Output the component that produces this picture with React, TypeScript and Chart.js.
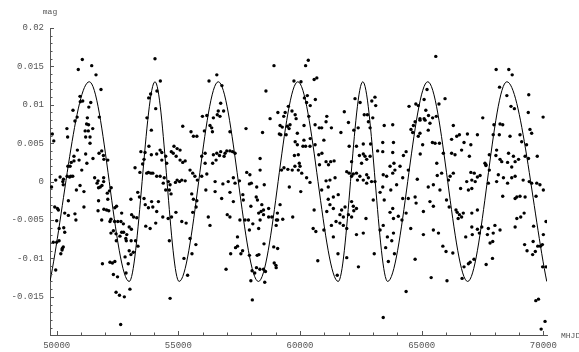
import React, { useEffect, useRef } from "react";
import { Chart, registerables } from "chart.js";

Chart.register(...registerables);

// Observed light-curve points: MJD (modified heliocentric Julian date) and magnitude offset
const obsMjd: number[] = [
  // upper band
  51053, 50888, 51439, 51616, 51821, 50958, 51070, 50970, 50670, 51320, 51400, 51260, 50840, 51750, 54040, 54260, 54120, 53860, 53780, 54070, 53710,
  56580, 56260, 56790, 56740, 56640, 56860, 56600, 56710, 55990, 56170, 56440, 58930, 60340, 60230, 58600, 59750, 60040, 60580, 60690, 60300,
  60180, 60630, 60270, 60420, 59520, 59670, 59090, 59390, 59330, 59800, 59840, 60360, 58770, 61100, 62260, 62470, 62950, 63080, 63110, 61820,
  62640, 62770, 62990,
  65580, 65220, 64480, 64760, 64860, 65100, 65710, 65960, 65170, 65280, 65450, 65600, 64930, 65100, 68060, 68580, 68720, 68200, 68500, 69400,
  68670, 68810, 69380, 67510, 69990,
  // left middle band
  49820, 49880, 49790, 49960, 50140, 50280, 50250, 50430, 50530, 49920,
  50030, 50070, 50000, 50100, 50290, 50330, 50330, 50480, 50750, 50480,
  50580, 50660, 50460, 50550, 50600, 50710, 50920, 50420, 50450, 50750,
  50850, 50710, 51030, 50960, 51190, 51240, 51230, 51310, 51170, 51300,
  51370, 51190, 51480, 51370, 51490, 51740, 51850, 51940, 51920, 52100,
  51560, 51700, 51660, 51720, 51790, 51860, 51930, 51930, 51720, 51700,
  51940, 52100, 52080, 52170, 52240, 52050, 52140, 51850, 52230, 52190,
  52380, 52460, 52390, 52670, 52510, 52640, 52740, 52230, 52330, 52440,
  52600, 52670, 52750, 52840, 52880, 52980, 53070, 53080, 53160, 53290,
  53330, 53400, 53590, 53640, 53770, 53950, 54110, 53900, 54180, 53220,
  53420, 53530, 53590, 53460, 53630, 53700, 53770, 53870, 53950, 54110,
  54250, 53890, 53790, 53890, 54110, 54250, 54320, 54480, 54520, 54320,
  54420, 54590, 54660, 54380, 54480, 54630, 54700, 54880, 54950, 55050,
  55140, 55280, 54710, 54790, 54910, 54820, 54950, 55070, 55070, 55180,
  55280, 55180, 55520, 55620, 55760, 55480, 55590, 55680, 55780, 55550,
  55620, 55760, 55730, 55590, 55320, 55480, 53050, 53660, 53840, 54070,
  54360, 54580, 54720, 54900, 55140, 50810, 51120, 51120, 50790, 50270,
  // lower band
  49860, 50000, 50100, 50270, 50230, 50170, 50220, 49960, 51880, 52190, 52290, 52390, 52330, 52500, 52440, 52580, 52780, 52630,
  52810, 52940, 52850, 52980, 53050, 53150, 53010, 53340, 52450, 52860, 53060, 53240, 54660, 54630, 55230, 55380, 55560, 55720,
  56960, 57150, 57350, 57430, 57570, 57640, 57920, 58240, 58310, 58520, 58920, 59080, 58030, 58140, 58210, 58350, 58580, 58500,
  57980, 58550, 58940, 59010, 59020, 58040, 60730, 61560, 61920, 61530, 62400, 63050, 63520, 63880, 63630, 63770, 63420,
  64360, 64730, 65390, 65870, 66000, 66280, 66040, 66660, 66740, 66920,
  66990, 67150, 67650, 67910, 67810, 67920, 69230, 69330, 69580, 69560,
  69670, 69770, 69880, 69960, 69970, 70110, 69690, 69800, 70070, 69910,
  // central middle band
  56300, 56370, 56400, 56070, 57120, 57780, 58460, 59180, 59270, 59150,
  59480, 59550, 59590, 59430, 59210, 59890, 60165, 60620, 60790, 60890,
  61070, 60980, 59800, 60160, 60420, 60230, 60120, 59890, 60620, 60410,
  61290, 61680, 61990, 62210, 62390, 62880, 62810, 63460, 63810, 63840,
  63400, 63190, 62900, 62600, 62320, 62020, 56440, 56580, 56740, 56920,
  56990, 57120, 57230, 57330, 56880, 56690, 56550, 56100, 55960, 56100,
  56410, 58360, 59930, 59770, 59970, 60770, 60900, 60800, 61070, 61260,
  61400, 61170, 62440, 62600, 62670, 62740, 62880, 62120, 62530, 63400,
  63810, 63860, 63700, 56170, 55960, 56510, 56830, 57050, 57260, 57330,
  57510, 57810, 57940, 57920, 58220, 58000, 58360, 58530, 59240, 59340,
  59500, 59680, 59790, 59930, 60070, 60000, 60270, 60410, 59560, 61070,
  61230, 61440, 61160, 60890, 61920, 62020, 62190, 62320, 62460, 62740,
  62810, 62940, 63080, 62740, 62600, 62360, 62120, 63420, 63560, 63810,
  63900, 63400, 63730, 63970, 56130, 56510, 56780, 57120, 57260, 57650,
  57670, 57980, 58200, 58250, 58430, 58710, 58500, 58400, 58300, 58500,
  58710, 58840, 59070, 59180, 59290, 59700, 59030, 60030, 60580, 61100,
  61230, 61370, 61570, 61370, 61160, 61710, 61850, 62120, 62190, 62320,
  62210, 62710, 63010, 63290, 63460, 63810, 63700, 61640, 61780, 61990,
  62120, 56230, 56300, 57010, 57120, 57530, 57740, 57880, 58060, 58360,
  58300, 57920, 57430, 59020, 59080, 60540, 60650, 60980, 61290, 61480,
  61920, 62320, 62600, 63290, 63420, 63840, 64040, 63840, 63590, 61640,
  61780, 61370,
  // right middle band
  64660, 64560, 64630, 64860, 64930, 65040, 65270, 65440, 65550, 65730,
  64940, 64360, 64250, 64110, 64450, 64220, 64730, 64930, 65140, 65340,
  66300, 66230, 66440, 66550, 66740, 66880, 67020, 67290, 66230, 66370,
  66640, 66960, 65890, 65620, 65820, 65640, 67970, 68220, 68330, 67940,
  68190, 68630, 68080, 68050, 68220, 68290, 67780, 67600, 67640, 69450,
  69520, 69040, 69110, 69310, 69750, 69250, 69390, 68980, 68770, 68570,
  68530, 68840, 68700, 66300, 67020, 67160, 67060, 67200, 67290, 67400,
  66850, 66600, 66920, 67060, 66100, 66170, 65750, 65480, 65270, 64820,
  64730, 64770, 64450, 64220, 64360, 67640, 67780, 67740, 68150, 68080,
  68360, 68700, 68840, 68530, 68840, 68910, 69040, 69250, 69520, 69730,
  69860, 70000, 69700, 69170, 69420, 68330, 66020, 66130, 66410, 66460,
  66550, 66640, 66500, 66710, 67060, 67290, 67060, 67290, 67470, 67370,
  67740, 68010, 68220, 68840, 68910, 69070, 69210, 70110, 69600, 70000,
  65480, 65690, 65070, 64550, 64190, 65340, 65480, 65070, 66810, 67080,
  67700, 67940,
];

const obsMag: number[] = [
  // upper band
  0.0159, 0.0146, 0.0151, 0.0139, 0.0120, 0.0111, 0.0105, 0.0104, 0.0093, 0.0097, 0.0103, 0.0083, 0.0084, 0.0084, 0.0160, 0.0131, 0.0118, 0.0114, 0.0109, 0.0095, 0.0083,
  0.0139, 0.0131, 0.0125, 0.0102, 0.0092, 0.0092, 0.0087, 0.0085, 0.0085, 0.0086, 0.0083, 0.0151, 0.0158, 0.0151, 0.0118, 0.0131, 0.0130, 0.0133, 0.0135, 0.0112,
  0.0109, 0.0107, 0.0103, 0.0099, 0.0098, 0.0092, 0.0090, 0.0090, 0.0085, 0.0087, 0.0082, 0.0085, 0.0082, 0.0085, 0.0108, 0.0103, 0.0105, 0.0110, 0.0099, 0.0091,
  0.0087, 0.0087, 0.0083,
  0.0163, 0.0120, 0.0098, 0.0101, 0.0099, 0.0107, 0.0101, 0.0108, 0.0093, 0.0086, 0.0083, 0.0085, 0.0082, 0.0082, 0.0146, 0.0146, 0.0139, 0.0123, 0.0112, 0.0113,
  0.0098, 0.0095, 0.0090, 0.0083, 0.0084,
  // left middle band
  0.0062, 0.0053, -0.0007, 0.0002, 0.0006, 0.0003, 0.0000, 0.0007, 0.0006, -0.0033,
  -0.0035, -0.0037, -0.0051, -0.0061, -0.0060, -0.0066, -0.0041, -0.0044, -0.0042, -0.0025,
  0.0007, 0.0007, 0.0020, 0.0020, 0.0025, 0.0027, 0.0028, 0.0069, 0.0058, 0.0079,
  0.0041, 0.0033, 0.0015, -0.0005, 0.0036, 0.0024, 0.0075, 0.0074, 0.0066, 0.0066,
  0.0058, 0.0058, 0.0069, 0.0050, 0.0030, 0.0037, 0.0040, 0.0029, 0.0034, 0.0028,
  0.0005, 0.0001, -0.0002, -0.0008, -0.0007, -0.0005, 0.0000, 0.0005, -0.0025, -0.0038,
  -0.0036, -0.0023, -0.0015, -0.0012, -0.0008, -0.0037, -0.0038, -0.0050, -0.0049, -0.0052,
  -0.0052, -0.0032, -0.0034, -0.0041, -0.0052, -0.0052, -0.0055, -0.0067, -0.0064, -0.0068,
  -0.0071, -0.0066, -0.0066, -0.0074, -0.0069, -0.0059, -0.0062, -0.0043, -0.0046, -0.0047,
  -0.0014, -0.0020, -0.0022, -0.0030, -0.0034, -0.0033, -0.0039, -0.0026, -0.0026, 0.0018,
  0.0012, 0.0023, 0.0029, 0.0039, 0.0038, 0.0011, 0.0012, 0.0011, 0.0011, 0.0007,
  0.0007, 0.0067, 0.0046, 0.0035, 0.0036, 0.0041, 0.0038, 0.0033, 0.0024, 0.0028,
  0.0005, 0.0000, -0.0004, -0.0002, -0.0011, -0.0011, -0.0016, -0.0001, 0.0002, 0.0000,
  0.0002, 0.0001, 0.0039, 0.0037, 0.0033, 0.0046, 0.0043, 0.0041, 0.0028, 0.0025,
  0.0027, 0.0072, 0.0065, 0.0059, 0.0059, 0.0015, 0.0011, 0.0007, 0.0002, -0.0016,
  -0.0023, -0.0025, -0.0033, -0.0040, -0.0054, -0.0074, -0.0023, -0.0058, -0.0061, -0.0054,
  -0.0046, -0.0048, -0.0046, -0.0040, -0.0052, -0.0011, -0.0013, -0.0033, -0.0050, -0.0004,
  // lower band
  -0.0079, -0.0079, -0.0077, -0.0085, -0.0087, -0.0094, -0.0089, -0.0115, -0.0107, -0.0105, -0.0106, -0.0104, -0.0121, -0.0124, -0.0144, -0.0148, -0.0150, -0.0186,
  -0.0098, -0.0107, -0.0119, -0.0090, -0.0095, -0.0092, -0.0140, -0.0084, -0.0077, -0.0077, -0.0077, -0.0077, -0.0152, -0.0077, -0.0100, -0.0122, -0.0094, -0.0082,
  -0.0114, -0.0094, -0.0086, -0.0084, -0.0094, -0.0090, -0.0096, -0.0096, -0.0095, -0.0081, -0.0085, -0.0087, -0.0116, -0.0119, -0.0112, -0.0114, -0.0117, -0.0114,
  -0.0129, -0.0131, -0.0106, -0.0109, -0.0112, -0.0154, -0.0103, -0.0094, -0.0099, -0.0122, -0.0111, -0.0094, -0.0086, -0.0094, -0.0104, -0.0077, -0.0177,
  -0.0143, -0.0101, -0.0125, -0.0084, -0.0091, -0.0093, -0.0129, -0.0126, -0.0111, -0.0107,
  -0.0105, -0.0101, -0.0108, -0.0100, -0.0080, -0.0078, -0.0082, -0.0090, -0.0078, -0.0095,
  -0.0091, -0.0084, -0.0084, -0.0082, -0.0111, -0.0111, -0.0155, -0.0153, -0.0182, -0.0192,
  // central middle band
  0.0073, 0.0070, 0.0065, 0.0066, 0.0065, 0.0069, 0.0064, 0.0073, 0.0071, 0.0062,
  0.0072, 0.0069, 0.0074, 0.0061, 0.0061, 0.0063, 0.0073, 0.0074, 0.0070, 0.0070,
  0.0078, 0.0054, 0.0052, 0.0054, 0.0056, 0.0046, 0.0046, 0.0048, 0.0048, 0.0046,
  0.0070, 0.0064, 0.0077, 0.0067, 0.0070, 0.0070, 0.0078, 0.0073, 0.0074, 0.0051,
  0.0051, 0.0040, 0.0049, 0.0049, 0.0046, 0.0046, 0.0035, 0.0037, 0.0039, 0.0037,
  0.0040, 0.0040, 0.0039, 0.0037, 0.0033, 0.0034, 0.0028, 0.0037, 0.0033, 0.0024,
  0.0024, 0.0030, 0.0035, 0.0034, 0.0024, 0.0035, 0.0037, 0.0022, 0.0026, 0.0026,
  0.0027, 0.0022, 0.0034, 0.0036, 0.0033, 0.0029, 0.0033, 0.0026, 0.0024, 0.0039,
  0.0038, 0.0024, 0.0020, 0.0010, 0.0007, 0.0000, -0.0003, 0.0000, 0.0005, -0.0002,
  0.0001, 0.0012, 0.0009, -0.0003, -0.0007, -0.0002, 0.0015, -0.0004, 0.0015, 0.0018,
  0.0016, 0.0015, 0.0020, 0.0015, 0.0011, 0.0020, 0.0005, -0.0001, -0.0007, 0.0001,
  0.0002, 0.0005, -0.0007, -0.0011, 0.0013, 0.0011, 0.0010, 0.0011, 0.0007, 0.0009,
  0.0005, 0.0000, 0.0000, -0.0002, 0.0002, 0.0002, 0.0007, 0.0009, 0.0007, 0.0011,
  0.0015, -0.0007, -0.0011, -0.0004, -0.0011, -0.0013, -0.0022, -0.0014, -0.0026, -0.0017,
  -0.0024, -0.0032, -0.0020, -0.0024, -0.0030, -0.0035, -0.0037, -0.0039, -0.0041, -0.0043,
  -0.0046, -0.0046, -0.0041, -0.0030, -0.0049, -0.0046, -0.0050, -0.0013, -0.0037, -0.0039,
  -0.0030, -0.0035, -0.0017, -0.0020, -0.0023, -0.0037, -0.0033, -0.0026, -0.0032, -0.0035,
  -0.0038, -0.0048, -0.0024, -0.0014, -0.0024, -0.0035, -0.0040, -0.0043, -0.0046, -0.0043,
  -0.0046, -0.0046, -0.0057, -0.0043, -0.0046, -0.0050, -0.0050, -0.0050, -0.0055, -0.0050,
  -0.0061, -0.0063, -0.0072, -0.0057, -0.0050, -0.0061, -0.0065, -0.0063, -0.0057, -0.0052,
  -0.0061, -0.0069, -0.0067, -0.0063, -0.0057, -0.0048, -0.0045, -0.0067, -0.0072, -0.0054,
  -0.0057, -0.0072,
  // right middle band
  0.0073, 0.0068, 0.0064, 0.0059, 0.0063, 0.0048, 0.0067, 0.0051, 0.0050, 0.0050,
  0.0036, 0.0039, 0.0034, 0.0020, 0.0015, 0.0005, 0.0078, 0.0080, 0.0080, 0.0076,
  0.0073, 0.0055, 0.0059, 0.0061, 0.0051, 0.0062, 0.0048, 0.0061, 0.0037, 0.0035,
  0.0041, 0.0033, 0.0037, 0.0024, 0.0011, 0.0008, 0.0074, 0.0075, 0.0074, 0.0061,
  0.0061, 0.0059, 0.0041, 0.0034, 0.0029, 0.0026, 0.0035, 0.0024, 0.0021, 0.0068,
  0.0063, 0.0061, 0.0052, 0.0048, 0.0033, 0.0033, 0.0030, 0.0029, 0.0033, 0.0037,
  0.0025, 0.0026, 0.0019, 0.0011, 0.0012, 0.0011, 0.0002, 0.0000, 0.0006, 0.0008,
  0.0000, -0.0009, -0.0011, -0.0009, 0.0002, 0.0007, -0.0011, -0.0004, -0.0007, 0.0003,
  -0.0020, -0.0028, -0.0022, -0.0022, -0.0041, 0.0022, 0.0015, -0.0002, 0.0009, 0.0000,
  0.0005, 0.0005, 0.0007, -0.0002, -0.0022, -0.0020, -0.0019, -0.0020, -0.0002, -0.0002,
  -0.0004, -0.0011, -0.0019, 0.0002, 0.0000, -0.0019, -0.0024, -0.0033, -0.0037, -0.0040,
  -0.0043, -0.0046, -0.0048, -0.0041, -0.0041, -0.0037, -0.0059, -0.0062, -0.0059, -0.0067,
  -0.0061, -0.0057, -0.0063, -0.0059, -0.0048, -0.0046, -0.0041, -0.0052, -0.0058, -0.0069,
  -0.0063, -0.0067, -0.0069, -0.0061, -0.0050, -0.0026, -0.0032, -0.0039, -0.0072, -0.0069,
  -0.0069, -0.0067,
];

// Fitted model curve: turning points (maxima / minima)
const modelMjd: number[] = [
  49725, 51340, 52980, 54040, 55030, 56640, 58290, 59910,
  61570, 62580, 63600, 65250, 66890, 68500, 70140,
];
const modelMag: number[] = [
  -0.013, 0.013, -0.013, 0.013, -0.013, 0.013, -0.013, 0.013,
  -0.013, 0.013, -0.013, 0.013, -0.013, 0.013, -0.013,
];

const xTicks: number[] = [50000, 55000, 60000, 65000, 70000];
const yTicks: number[] = [-0.015, -0.01, -0.005, 0, 0.005, 0.01, 0.015, 0.02];
const xMinorTicks: number[] = [
  51000, 52000, 53000, 54000, 56000, 57000, 58000, 59000,
  61000, 62000, 63000, 64000, 66000, 67000, 68000, 69000,
];
const yMinorTicks: number[] = [
  -0.019, -0.018, -0.017, -0.016, -0.014, -0.013, -0.012, -0.011,
  -0.009, -0.008, -0.007, -0.006, -0.004, -0.003, -0.002, -0.001,
  0.001, 0.002, 0.003, 0.004, 0.006, 0.007, 0.008, 0.009,
  0.011, 0.012, 0.013, 0.014, 0.016, 0.017, 0.018, 0.019,
];

const xTitle = "MHJD";
const yTitle = "mag";

const AXIS_COLOR = "#555555";
const MONO = '"Liberation Mono", "DejaVu Sans Mono", monospace';

const axisDecor = {
  id: "axisDecor",
  afterDraw(chart: any) {
    const { ctx, chartArea: a, scales } = chart;
    const xs = scales.x;
    const ys = scales.y;
    ctx.save();
    ctx.strokeStyle = AXIS_COLOR;
    ctx.lineWidth = 1;
    ctx.beginPath();
    const xTick = (v: number, len: number) => {
      const px = Math.round(xs.getPixelForValue(v)) + 0.5;
      ctx.moveTo(px, a.bottom);
      ctx.lineTo(px, a.bottom - len);
    };
    const yTick = (v: number, len: number) => {
      const py = Math.round(ys.getPixelForValue(v)) + 0.5;
      ctx.moveTo(a.left, py);
      ctx.lineTo(a.left + len, py);
    };
    xTicks.forEach((v) => xTick(v, 4));
    xMinorTicks.forEach((v) => xTick(v, 2.5));
    yTicks.forEach((v) => yTick(v, 4));
    yMinorTicks.forEach((v) => yTick(v, 2.5));
    ctx.stroke();

    ctx.fillStyle = AXIS_COLOR;
    ctx.font = `8px ${MONO}`;
    ctx.textBaseline = "middle";
    ctx.textAlign = "center";
    ctx.fillText(yTitle, a.left, a.top - 16);
    ctx.textAlign = "left";
    ctx.fillText(xTitle, a.right + 14, a.bottom + 1);
    ctx.restore();
  },
};

export default function App() {
  const canvasRef = useRef<HTMLCanvasElement | null>(null);

  useEffect(() => {
    const canvas = canvasRef.current;
    if (!canvas) return;
    const n = Math.min(obsMjd.length, obsMag.length);
    const obsPoints = [];
    for (let i = 0; i < n; i++) obsPoints.push({ x: obsMjd[i], y: obsMag[i] });
    const modelPoints = modelMjd.map((x, i) => ({ x, y: modelMag[i] }));

    const tickFont = { family: MONO, size: 9 };

    const chart = new Chart(canvas, {
      type: "scatter",
      data: {
        datasets: [
          {
            label: "model",
            data: modelPoints,
            showLine: true,
            borderColor: "#000000",
            borderWidth: 1,
            pointRadius: 0,
            pointHoverRadius: 0,
            cubicInterpolationMode: "monotone",
            fill: false,
          } as any,
          {
            label: "observations",
            data: obsPoints,
            showLine: false,
            pointRadius: 1.7,
            pointHoverRadius: 1.7,
            pointBorderWidth: 0,
            pointBackgroundColor: "#000000",
            borderColor: "#000000",
          } as any,
        ],
      },
      options: {
        responsive: false,
        maintainAspectRatio: false,
        devicePixelRatio: 1,
        animation: false,
        events: [],
        layout: { padding: { top: 28, right: 32, bottom: 0, left: 0 } },
        plugins: {
          legend: { display: false },
          tooltip: { enabled: false },
          title: { display: false },
        },
        scales: {
          x: {
            type: "linear",
            position: "bottom",
            min: 49725,
            max: 70150,
            afterBuildTicks: (s: any) => {
              s.ticks = xTicks.map((v) => ({ value: v }));
            },
            afterFit: (s: any) => {
              s.height = 17;
            },
            ticks: {
              callback: (v: any) => String(v),
              font: tickFont,
              color: AXIS_COLOR,
              padding: 5,
              maxRotation: 0,
              autoSkip: false,
            },
            grid: { display: false, drawTicks: false },
            border: { display: true, color: AXIS_COLOR, width: 1 },
          },
          y: {
            type: "linear",
            position: "left",
            min: -0.01997,
            max: 0.02,
            afterBuildTicks: (s: any) => {
              s.ticks = yTicks.map((v) => ({ value: v }));
            },
            afterFit: (s: any) => {
              s.width = 50;
            },
            ticks: {
              callback: (v: any) => String(v),
              font: tickFont,
              color: AXIS_COLOR,
              padding: 6,
              autoSkip: false,
            },
            grid: { display: false, drawTicks: false },
            border: { display: true, color: AXIS_COLOR, width: 1 },
          },
        },
      } as any,
      plugins: [axisDecor],
    });

    return () => chart.destroy();
  }, []);

  return (
    <div
      style={{
        position: "fixed",
        left: 0,
        top: 0,
        width: 579,
        height: 352,
        background: "#ffffff",
      }}
    >
      <canvas ref={canvasRef} width={579} height={352} style={{ display: "block" }} />
    </div>
  );
}
